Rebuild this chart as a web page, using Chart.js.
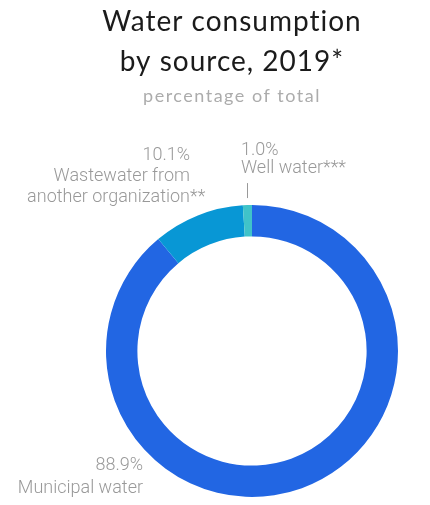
<!DOCTYPE html>
<html>
<head>
<meta charset="utf-8">
<script src="https://cdn.jsdelivr.net/npm/chart.js@4"></script>
<style>
  html, body { margin: 0; padding: 0; background: #fff; }
  #wrap { width: 430px; height: 505px; }
</style>
</head>
<body>
<div id="wrap"><canvas id="waterChart" width="430" height="505"></canvas></div>
<script>
// Water consumption by source, 2019 (% of total)
const sources = ["Municipal water", "Wastewater from\nanother organization**", "Well water***"];
const shares = [88.9, 10.1, 1.0];
const sliceColors = ["#2266e3", "#0897d5", "#40c3c9"];

// labels next to the ring: [x, y, align, line height] per slice
const labelPlaces = [
  [143, 465, "right", 23],
  [190, 155, "right", 21],
  [241, 150, "left", 18]
];

const fmt = v => v.toFixed(1) + "%";

// title + slice labels drawn straight on the canvas
const textPlugin = {
  id: "texts",
  afterDraw(chart) {
    const c = chart.ctx;
    c.save();
    c.textBaseline = "middle";
    c.textAlign = "center";
    c.fillStyle = "#1b1b1b";
    c.font = "400 28px Lato";
    c.letterSpacing = "1px";
    c.fillText("Water consumption", 232, 22);
    c.fillText("by source, 2019*", 232, 62);
    c.fillStyle = "#acacac";
    c.font = "400 18px Lato";
    c.letterSpacing = "1.5px";
    c.fillText("percentage of total", 232, 96);
    c.letterSpacing = "0px";

    c.fillStyle = "#999";
    c.font = "300 18px Roboto";
    shares.forEach((v, i) => {
      const [x, y, align, lh] = labelPlaces[i];
      const lines = [fmt(v)].concat(sources[i].split("\n"));
      lines.forEach((t, k) => {
        const yy = y + k * lh;
        if (align === "right") {
          // trailing footnote stars hang past the right edge
          const body = t.replace(/\*+$/, "");
          const stars = t.slice(body.length);
          c.textAlign = "right";
          c.fillText(body, x, yy);
          if (stars) {
            c.textAlign = "left";
            c.fillText(stars, x, yy);
          }
        } else {
          c.textAlign = "left";
          c.fillText(t, x, yy);
        }
      });
    });

    // small leader for the thin well-water slice
    const arc = chart.getDatasetMeta(0).data[2];
    const mid = (arc.startAngle + arc.endAngle) / 2;
    const r0 = arc.outerRadius + 7, r1 = arc.outerRadius + 22;
    const lx = Math.round(arc.x + Math.cos(mid) * r0) + 0.5;
    c.strokeStyle = "#999";
    c.lineWidth = 1;
    c.beginPath();
    c.moveTo(lx, arc.y + Math.sin(mid) * r0);
    c.lineTo(lx, arc.y + Math.sin(mid) * r1);
    c.stroke();
    c.restore();
  }
};

new Chart(document.getElementById("waterChart"), {
  type: "doughnut",
  data: {
    labels: sources,
    datasets: [{
      data: shares,
      backgroundColor: sliceColors,
      borderWidth: 0,
      hoverOffset: 0
    }]
  },
  options: {
    responsive: false,
    animation: false,
    cutout: "78.5%",
    layout: { padding: { top: 205, left: 106, right: 32, bottom: 8 } },
    plugins: {
      legend: { display: false },
      tooltip: { enabled: false }
    }
  },
  plugins: [textPlugin]
});
</script>
</body>
</html>
